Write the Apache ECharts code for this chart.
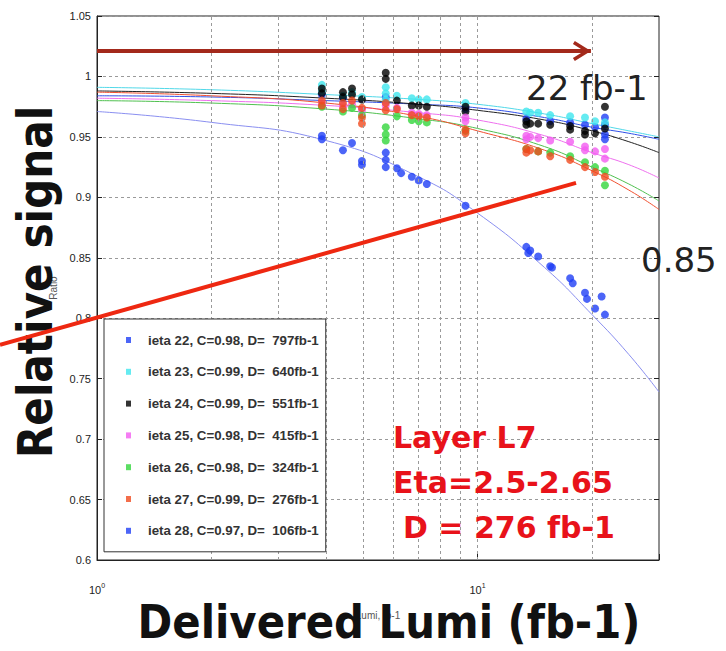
<!DOCTYPE html>
<html>
<head>
<meta charset="utf-8">
<script src="https://cdn.jsdelivr.net/npm/echarts@6/dist/echarts.min.js"></script>
<style>
  html, body { margin: 0; padding: 0; background: #ffffff; }
  #chart { width: 726px; height: 651px; }
</style>
</head>
<body>
<div id="chart"></div>
<script>
// Luminosity samples (fb-1) at which the fitted curves are drawn
const fitLumi = [1, 2, 4, 7, 10, 15, 20, 25, 30];

// Fitted relative signal, one curve per ieta ring
const fit22 = [0.984, 0.983, 0.980, 0.977, 0.974, 0.966, 0.958, 0.953, 0.948];
const fit23 = [0.991, 0.989, 0.985, 0.981, 0.977, 0.969, 0.961, 0.955, 0.950];
const fit24 = [0.988, 0.986, 0.982, 0.977, 0.972, 0.964, 0.955, 0.946, 0.937];
const fit25 = [0.982, 0.980, 0.976, 0.970, 0.964, 0.951, 0.937, 0.927, 0.916];
const fit26 = [0.980, 0.978, 0.973, 0.965, 0.957, 0.942, 0.925, 0.911, 0.897];
const fit27 = [0.987, 0.984, 0.978, 0.967, 0.955, 0.939, 0.922, 0.906, 0.890];
const fit28 = [0.971, 0.962, 0.947, 0.917, 0.887, 0.842, 0.803, 0.770, 0.739];

// Measured points [delivered lumi, relative signal]
const pts22 = [[3.9, 0.985], [4.43, 0.982], [5.74, 0.983], [9.3, 0.973], [13.44, 0.965], [15.53, 0.963],
  [17.52, 0.962], [19.17, 0.960], [20.37, 0.958], [21.63, 0.966], [21.63, 0.960], [21.63, 0.952], [21.63, 0.948]];
const pts23 = [[3.9, 0.993], [3.9, 0.988], [4.43, 0.984], [4.68, 0.987], [4.97, 0.983], [5.74, 0.991], [5.74, 0.986],
  [5.74, 0.981], [6.14, 0.984], [6.72, 0.982], [7.01, 0.981], [7.36, 0.981], [9.3, 0.978], [13.44, 0.971],
  [13.76, 0.970], [14.44, 0.970], [15.53, 0.968], [17.52, 0.967], [19.17, 0.966], [20.37, 0.963], [21.63, 0.962]];
const pts24 = [[3.9, 0.990], [3.9, 0.986], [4.43, 0.987], [4.43, 0.983], [4.68, 0.990], [4.68, 0.985], [4.97, 0.981],
  [5.74, 1.003], [5.74, 0.998], [6.14, 0.980], [6.72, 0.976], [7.01, 0.976], [7.36, 0.975], [9.3, 0.975], [9.3, 0.971],
  [13.44, 0.963], [13.44, 0.960], [13.76, 0.961], [14.44, 0.961], [15.53, 0.960], [17.52, 0.959], [17.52, 0.956],
  [19.17, 0.955], [19.17, 0.952], [20.37, 0.953], [21.63, 0.975], [21.63, 0.957]];
const pts25 = [[3.9, 0.978], [4.43, 0.976], [4.68, 0.977], [4.97, 0.972], [5.74, 0.976], [6.14, 0.974], [6.72, 0.970],
  [7.01, 0.969], [7.36, 0.968], [9.3, 0.966], [9.3, 0.963], [13.44, 0.951], [13.44, 0.948], [13.76, 0.950],
  [14.44, 0.949], [15.53, 0.947], [17.52, 0.946], [19.17, 0.942], [19.17, 0.939], [20.37, 0.938], [21.63, 0.940], [21.63, 0.932]];
const pts26 = [[3.9, 0.975], [4.43, 0.971], [4.68, 0.974], [4.97, 0.968], [5.74, 0.958], [5.74, 0.952], [5.74, 0.947],
  [6.14, 0.967], [6.72, 0.964], [7.01, 0.963], [7.36, 0.962], [9.3, 0.955], [13.44, 0.940], [14.44, 0.938],
  [15.53, 0.937], [17.52, 0.934], [19.17, 0.929], [20.37, 0.925], [21.63, 0.922], [21.63, 0.910]];
const pts27 = [[3.9, 0.980], [3.9, 0.976], [4.43, 0.978], [4.43, 0.973], [4.68, 0.980], [4.97, 0.974], [4.97, 0.966],
  [4.97, 0.961], [5.74, 0.978], [5.74, 0.972], [6.14, 0.973], [6.72, 0.968], [7.01, 0.967], [7.36, 0.966],
  [9.3, 0.956], [9.3, 0.953], [13.44, 0.940], [13.44, 0.937], [13.76, 0.939], [14.44, 0.938], [15.53, 0.934],
  [17.52, 0.931], [19.17, 0.925], [20.37, 0.921], [21.63, 0.917]];
const pts28 = [[3.9, 0.951], [3.9, 0.948], [4.43, 0.939], [4.68, 0.945], [4.97, 0.927], [4.97, 0.930], [5.74, 0.937],
  [5.74, 0.931], [5.74, 0.925], [6.14, 0.924], [6.3, 0.920], [6.72, 0.917], [7.01, 0.914], [7.36, 0.911],
  [9.3, 0.893], [13.44, 0.859], [13.6, 0.854], [13.76, 0.856], [14.44, 0.851], [15.53, 0.843], [15.7, 0.842],
  [17.52, 0.833], [17.8, 0.829], [19.17, 0.821], [19.4, 0.816], [20.37, 0.808], [21.2, 0.818], [21.63, 0.803]];

const legendNames = [
  'ieta 22, C=0.98, D=  797fb-1',
  'ieta 23, C=0.99, D=  640fb-1',
  'ieta 24, C=0.99, D=  551fb-1',
  'ieta 25, C=0.98, D=  415fb-1',
  'ieta 26, C=0.98, D=  324fb-1',
  'ieta 27, C=0.99, D=  276fb-1',
  'ieta 28, C=0.97, D=  106fb-1'
];

// Minor-decade grid positions of the log axis
const gridLumi = [2, 3, 4, 5, 6, 7, 8, 9, 10, 20];

// Guide lines in data coordinates
const slopeGuide = [[0.557, 0.778], [18.16, 0.912]];
const arrowGuide = [[1, 1.021], [19.87, 1.021]];

// Wider log range of the overlay axis that carries the slope guide past the left frame
const overlayLumiRange = [0.557, 30];

const fits = [fit22, fit23, fit24, fit25, fit26, fit27, fit28];
const points = [pts22, pts23, pts24, pts25, pts26, pts27, pts28];
const dotColors = ['#1f3ff5', '#3fe6ee', '#000000', '#f25cf0', '#33d63c', '#f04a1e', '#1f3ff5'];
const fitColors = ['#3050e8', '#50d8e8', '#222222', '#ee70ee', '#50c050', '#f05030', '#8a8ff0'];

const chart = echarts.init(document.getElementById('chart'), null, { renderer: 'svg' });

const series = [];
series.push({
  type: 'line', name: 'grid', data: [], silent: true, z: 1,
  markLine: {
    silent: true, symbol: 'none', animation: false,
    label: { show: false },
    lineStyle: { type: [3, 3], color: '#9a9a9a', width: 1 },
    data: gridLumi.map(v => ({ xAxis: v }))
  }
});
fits.forEach((f, i) => {
  series.push({
    type: 'line', name: 'fit ' + (22 + i), smooth: true, symbol: 'none', silent: true, z: 2,
    lineStyle: { width: 1, color: fitColors[i] },
    data: fitLumi.map((x, j) => [x, f[j]])
  });
});
points.forEach((p, i) => {
  series.push({
    type: 'scatter', name: legendNames[i], symbolSize: 8, z: 3,
    itemStyle: { color: dotColors[i] },
    data: p
  });
});
series.push({
  type: 'line', name: 'slope', xAxisIndex: 1, yAxisIndex: 2, clip: false, symbol: 'none', silent: true, z: 30,
  lineStyle: { width: 4, color: '#ee2811' },
  data: slopeGuide
});
series.push({
  type: 'line', name: 'arrow', clip: false, silent: true, z: 6, showSymbol: true,
  lineStyle: { width: 4, color: '#a3291b' },
  itemStyle: { color: '#a3291b' },
  data: [
    { value: arrowGuide[0], symbol: 'none' },
    { value: arrowGuide[1], symbol: 'path://M10,0 L20,17 L17,19 L10,7 L3,19 L0,17 Z',
      symbolSize: [20, 18], symbolRotate: -90, symbolOffset: [-9, 0] }
  ]
});

const bigFont = 'DejaVu Sans';

chart.setOption({
  animation: false,
  backgroundColor: '#ffffff',
  grid: [
    { left: 97, right: 67, top: 16, bottom: 91, show: true, borderColor: '#222', borderWidth: 1 },
    { left: 0, right: 67, top: 16, bottom: 91, show: false }
  ],
  legend: {
    data: legendNames, orient: 'vertical', left: 104, top: 319,
    icon: 'rect', itemWidth: 5, itemHeight: 6, itemGap: 17.8,
    padding: [14, 7, 14, 22],
    backgroundColor: '#ffffff', borderColor: '#333', borderWidth: 1, borderRadius: 0,
    selectedMode: false, z: 8,
    textStyle: { fontFamily: 'Liberation Sans', fontSize: 13.3, fontWeight: 'bold', color: '#333', lineHeight: 14, padding: [0, 0, 0, 12] }
  },
  xAxis: [{
    type: 'log', logBase: 10, min: 1, max: 30, gridIndex: 0,
    name: 'Lumi, fb-1', nameLocation: 'middle', nameGap: 50,
    nameTextStyle: { fontSize: 10, color: '#555', fontFamily: 'Liberation Sans' },
    axisLine: { show: true, lineStyle: { color: '#222', width: 1 } },
    axisTick: { show: true, inside: true, length: 6, lineStyle: { color: '#222' } },
    splitLine: { show: false },
    axisLabel: {
      margin: 22, color: '#222', fontFamily: 'Liberation Sans',
      formatter: v => {
        const e = Math.log10(v);
        if (Math.abs(e - Math.round(e)) < 1e-6 && v <= 10) return '{b|10}{s|' + Math.round(e) + '}';
        return '';
      },
      rich: {
        b: { fontSize: 11, color: '#222', fontFamily: 'Liberation Sans' },
        s: { fontSize: 7, color: '#222', fontFamily: 'Liberation Sans', padding: [0, 0, 9, 0] }
      }
    }
  }, {
    type: 'log', logBase: 10, min: overlayLumiRange[0], max: overlayLumiRange[1], gridIndex: 1, show: false
  }],
  yAxis: [{
    type: 'value', min: 0.6, max: 1.05, interval: 0.05, gridIndex: 0,
    name: 'Ratio', nameLocation: 'middle', nameGap: 38,
    nameTextStyle: { fontSize: 10, color: '#555', fontFamily: 'Liberation Sans' },
    axisLine: { show: true, lineStyle: { color: '#222', width: 1 } },
    axisTick: { show: true, inside: true, length: 5, lineStyle: { color: '#222' } },
    axisLabel: { fontSize: 11, color: '#222', margin: 6, fontFamily: 'Liberation Sans' },
    splitLine: { show: true, lineStyle: { type: [3, 3], color: '#9a9a9a', width: 1 } }
  }, {
    type: 'value', min: 0.6, max: 1.05, interval: 0.05, position: 'right', gridIndex: 0,
    axisLine: { show: false },
    axisTick: { show: true, inside: true, length: 5, lineStyle: { color: '#222' } },
    axisLabel: { show: false },
    splitLine: { show: false }
  }, {
    type: 'value', min: 0.6, max: 1.05, interval: 0.05, gridIndex: 1, show: false
  }],
  series: series,
  graphic: [
    {
      type: 'text', x: 36, y: 282, rotation: Math.PI / 2, scaleX: 0.88, z: 20,
      style: { text: 'Relative signal', font: 'bold 48px "' + bigFont + '"', fill: '#111', align: 'center', verticalAlign: 'middle' }
    },
    {
      type: 'text', x: 389, y: 622, scaleX: 0.91, z: 20,
      style: { text: 'Delivered Lumi (fb-1)', font: 'bold 46px "' + bigFont + '"', fill: '#111', align: 'center', verticalAlign: 'middle' }
    },
    {
      type: 'text', x: 526, y: 88, z: 20,
      style: { text: '22 fb-1', font: '34px "' + bigFont + '"', fill: '#222', align: 'left', verticalAlign: 'middle' }
    },
    {
      type: 'text', x: 641, y: 260, z: 20,
      style: { text: '0.85', font: '34px "' + bigFont + '"', fill: '#222', align: 'left', verticalAlign: 'middle' }
    },
    {
      type: 'text', x: 393, y: 437, z: 20,
      style: { text: 'Layer L7', font: 'bold 30px "' + bigFont + '"', fill: '#e8121a', align: 'left', verticalAlign: 'middle' }
    },
    {
      type: 'text', x: 393, y: 482, z: 20,
      style: { text: 'Eta=2.5-2.65', font: 'bold 30px "' + bigFont + '"', fill: '#e8121a', align: 'left', verticalAlign: 'middle' }
    },
    {
      type: 'text', x: 403, y: 527, z: 20,
      style: { text: 'D = 276 fb-1', font: 'bold 30px "' + bigFont + '"', fill: '#e8121a', align: 'left', verticalAlign: 'middle' }
    }
  ]
});
</script>
</body>
</html>
